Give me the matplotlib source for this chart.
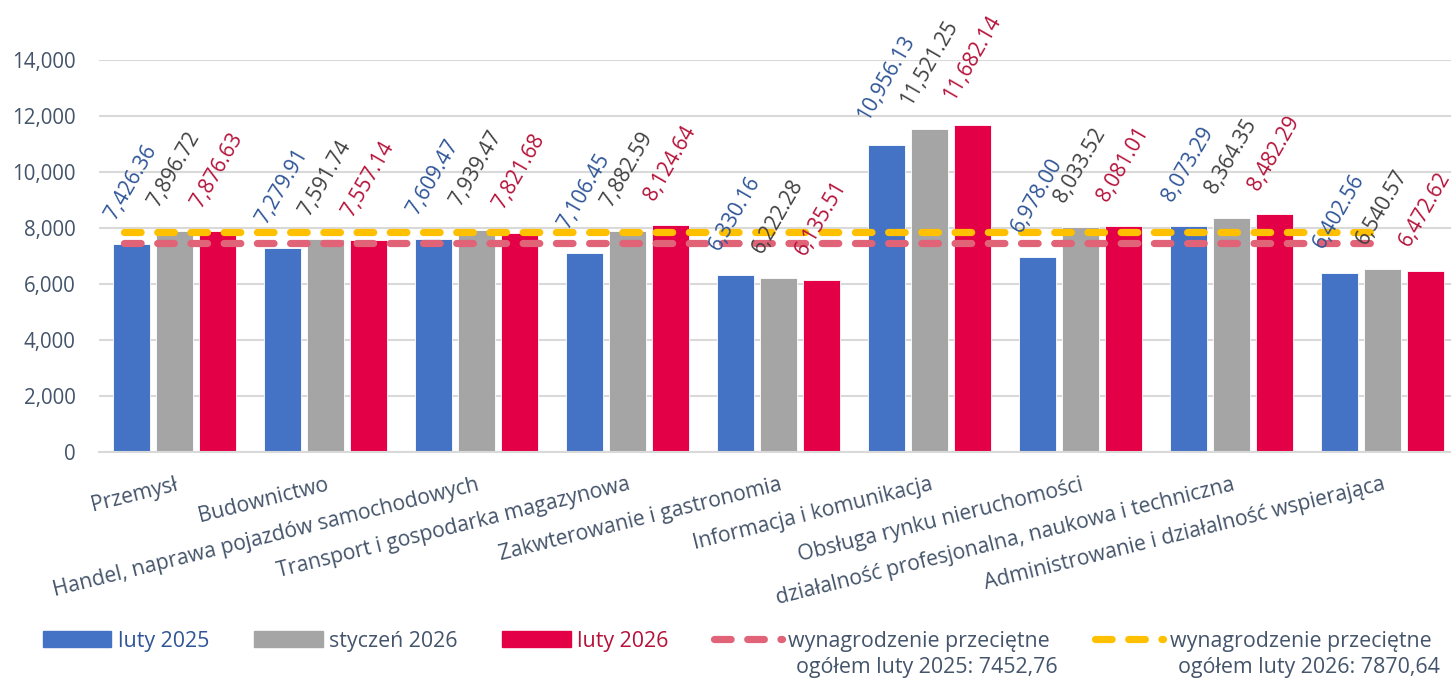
import numpy as np
import matplotlib.pyplot as plt
from matplotlib.lines import Line2D
from matplotlib.patches import Patch

plt.rcParams['font.family'] = ['Open Sans', 'DejaVu Sans']

categories = ["Przemysł", "Budownictwo", "Handel, naprawa pojazdów samochodowych",
              "Transport i gospodarka magazynowa", "Zakwterowanie i gastronomia",
              "Informacja i komunikacja", "Obsługa rynku nieruchomości",
              "działalność profesjonalna, naukowa i techniczna",
              "Administrowanie i działalność wspierająca"]
luty_2025 = [7426.36, 7279.91, 7609.47, 7106.45, 6330.16, 10956.13, 6978.00, 8073.29, 6402.56]
styczen_2026 = [7896.72, 7591.74, 7939.47, 7882.59, 6222.28, 11521.25, 8033.52, 8364.35, 6540.57]
luty_2026 = [7876.63, 7557.14, 7821.68, 8124.64, 6135.51, 11682.14, 8081.01, 8482.29, 6472.62]
series_names = ["luty 2025", "styczeń 2026", "luty 2026"]
avg_2025 = 7452.76
avg_2026 = 7870.64
avg_line1 = ["wynagrodzenie przeciętne", "wynagrodzenie przeciętne"]
avg_line2 = ["ogółem luty 2025: 7452,76", "ogółem luty 2026: 7870,64"]

bar_colors = ["#4472C4", "#A5A5A5", "#E40046"]
label_colors = ["#2F5597", "#404040", "#B5123A"]
avg_colors = ["#E06377", "#FFC000"]
text_col = "#44546A"
dash = (0, (2.3, 2.3))

fig = plt.figure(figsize=(14.51, 6.84), dpi=100)
ax = fig.add_axes([99 / 1451, 1 - 452 / 684, 1359 / 1451, 392 / 684])

x = np.arange(len(categories))
w = 0.25
offsets = [-0.285, 0, 0.285]
for vals, off, col, lcol in zip([luty_2025, styczen_2026, luty_2026], offsets, bar_colors, label_colors):
    bars = ax.bar(x + off, vals, w, color=col, edgecolor="white", linewidth=0.6, zorder=2)
    for b, v in zip(bars, vals):
        ax.annotate(f"{v:,.2f}", (b.get_x() + b.get_width() / 2, v), xytext=(0, 15),
                    textcoords="offset points", ha="center", va="bottom", rotation=60,
                    fontsize=15, color=lcol, zorder=5, annotation_clip=False)

# average lines, from a third of a category before the first group to the last group centre
for avg, col in zip([avg_2025, avg_2026], avg_colors):
    ax.plot([-1 / 3, len(categories) - 1], [avg, avg], color=col, linewidth=5.2,
            linestyle=dash, dash_capstyle="round", zorder=3)

ax.set_xlim(-0.5, len(categories) - 0.5)
ax.set_ylim(0, 14000)
yt = list(range(0, 14001, 2000))
ax.set_yticks(yt)
ax.set_yticklabels([f"{t:,}" for t in yt], fontsize=14.8, color=text_col)
ax.set_xticks(x)
ax.set_xticklabels(categories, rotation=14, ha="right", rotation_mode="anchor",
                   fontsize=15.2, color=text_col)
ax.tick_params(length=0)
ax.tick_params(axis="y", pad=17)
ax.tick_params(axis="x", pad=16)
ax.grid(axis="y", color="#D9D9D9", linewidth=1.5, zorder=0)
ax.set_axisbelow(True)
for s in ["top", "right", "left"]:
    ax.spines[s].set_visible(False)
ax.spines["bottom"].set_color("#D9D9D9")
ax.spines["bottom"].set_linewidth(1.5)

fs_leg = 15.4
handles = [Patch(color=c) for c in bar_colors]
handles += [Line2D([0], [0], color=c, lw=5.2, linestyle=dash, dash_capstyle="round") for c in avg_colors]
leg = fig.legend(handles, series_names + avg_line1, loc="center left",
                 bbox_to_anchor=(43 / 1451, 1 - 641 / 684),
                 ncol=5, frameon=False, fontsize=fs_leg, handlelength=3.2, handleheight=0.8,
                 handletextpad=0.3, columnspacing=2.1, borderaxespad=0, borderpad=0)
for t, c in zip(leg.get_texts(), [label_colors[0], text_col, label_colors[2], text_col, text_col]):
    t.set_color(c)

# second line of the two average entries
fig.canvas.draw()
for t, line2 in zip(leg.get_texts()[3:], avg_line2):
    bb = t.get_window_extent()
    fig.text((bb.x0 + 8) / 1451, (bb.y0 + bb.y1) / 2 / 684 - 26 / 684, line2,
             ha="left", va="center", fontsize=fs_leg, color=text_col)

fig.savefig("out.png", dpi=100)
